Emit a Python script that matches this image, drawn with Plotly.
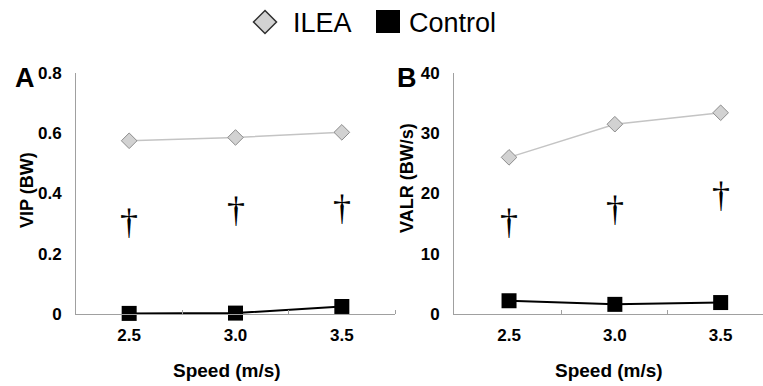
import plotly.graph_objects as go

# ---- data ----
speeds = [2.5, 3.0, 3.5]
speed_labels = ["2.5", "3.0", "3.5"]
vip_ilea = [0.575, 0.586, 0.603]
vip_control = [0.002, 0.003, 0.025]
valr_ilea = [26.0, 31.5, 33.4]
valr_control = [2.2, 1.6, 1.9]
vip_dagger = [0.305, 0.345, 0.352]
valr_dagger = [15.3, 17.4, 19.8]

W, H = 763, 386
def px(x):
    return x / W
def py(y):
    return 1 - y / H

FONT = "Liberation Sans, Arial, sans-serif"
ILEA_LINE = "#c4c4c4"
ILEA_FILL = "#d2d2d2"
ILEA_EDGE = "#8c8c8c"

fig = go.Figure()

for xa, ya, ilea, ctrl in [("x", "y", vip_ilea, vip_control), ("x2", "y2", valr_ilea, valr_control)]:
    fig.add_trace(go.Scatter(
        x=speeds, y=ilea, xaxis=xa, yaxis=ya, mode="lines+markers",
        line=dict(color=ILEA_LINE, width=1.5),
        marker=dict(symbol="diamond", size=12, color=ILEA_FILL, line=dict(color=ILEA_EDGE, width=1)),
        cliponaxis=False, showlegend=False, name="ILEA"))
    fig.add_trace(go.Scatter(
        x=speeds, y=ctrl, xaxis=xa, yaxis=ya, mode="lines+markers",
        line=dict(color="black", width=2),
        marker=dict(symbol="square", size=15, color="black"),
        cliponaxis=False, showlegend=False, name="Control"))

annotations = []
for xref, yref, vals in [("x", "y", vip_dagger), ("x2", "y2", valr_dagger)]:
    for s, v in zip(speeds, vals):
        annotations.append(dict(x=s, y=v, xref=xref, yref=yref, text="†", showarrow=False,
                                xanchor="center", yanchor="middle",
                                font=dict(family="Liberation Serif, serif", size=36, color="black")))

def note(x, y, text, size, anchor="center", angle=0):
    return dict(x=px(x), y=py(y), xref="paper", yref="paper", text=text, showarrow=False,
                xanchor=anchor, yanchor="middle", textangle=angle,
                font=dict(family=FONT, size=size, color="black"))

annotations += [
    note(227, 370, "<b>Speed (m/s)</b>", 19),
    note(609, 370, "<b>Speed (m/s)</b>", 19),
    note(27, 190, "<b>VIP (BW)</b>", 18, angle=-90),
    note(407, 178, "<b>VALR (BW/s)</b>", 18, angle=-90),
    note(25, 78, "<b>A</b>", 27),
    note(407, 78, "<b>B</b>", 27),
    note(291, 23, "ILEA", 27, anchor="left"),
    note(407, 23, "Control", 27, anchor="left"),
]

# legend symbols
cx, cy, r = 265, 22, 11.5
diamond = f"M {px(cx)},{py(cy - r)} L {px(cx + r)},{py(cy)} L {px(cx)},{py(cy + r)} L {px(cx - r)},{py(cy)} Z"
shapes = [
    dict(type="path", xref="paper", yref="paper", path=diamond, fillcolor=ILEA_FILL, line=dict(color="#303030", width=1.5)),
    dict(type="rect", xref="paper", yref="paper", x0=px(376), x1=px(400), y0=py(10), y1=py(33),
         fillcolor="black", line=dict(color="black", width=0)),
]

tickfont = dict(family=FONT, size=17, color="black")
xcommon = dict(tickmode="array", tickvals=speeds, ticktext=[f"<b>{t}</b>" for t in speed_labels],
               ticks="", tickfont=tickfont, showgrid=False, zeroline=False, showline=True,
               linecolor="#a0a0a0", linewidth=1, ticklabelstandoff=6, automargin=False,
               minor=dict(tickmode="array", tickvals=[2.75, 3.25, 3.75], ticks="inside", ticklen=4,
                          tickcolor="#a0a0a0", showgrid=False))
ycommon = dict(tickfont=tickfont, showgrid=False, zeroline=False, showline=True, automargin=False,
               linecolor="#a0a0a0", linewidth=1, ticks="", ticklabelstandoff=10)

fig.update_layout(
    width=W, height=H, margin=dict(l=0, r=0, t=0, b=0, autoexpand=False),
    paper_bgcolor="white", plot_bgcolor="white",
    xaxis=dict(domain=[px(76), px(395)], range=[2.25, 3.75], anchor="y", **xcommon),
    yaxis=dict(domain=[py(314), py(73)], range=[0, 0.8], anchor="x",
               tickvals=[0, 0.2, 0.4, 0.6, 0.8], ticktext=["<b>0</b>", "<b>0.2</b>", "<b>0.4</b>", "<b>0.6</b>", "<b>0.8</b>"],
               **ycommon),
    xaxis2=dict(domain=[px(454), 1.0], range=[2.24, 3.70], anchor="y2", **xcommon),
    yaxis2=dict(domain=[py(314), py(73)], range=[0, 40], anchor="x2",
                tickvals=[0, 10, 20, 30, 40], ticktext=["<b>0</b>", "<b>10</b>", "<b>20</b>", "<b>30</b>", "<b>40</b>"],
                **ycommon),
    annotations=annotations, shapes=shapes, showlegend=False,
)

fig.write_html("out.html", config={"displayModeBar": False},
               post_script="document.body.style.margin='0';document.body.style.overflow='hidden';")
